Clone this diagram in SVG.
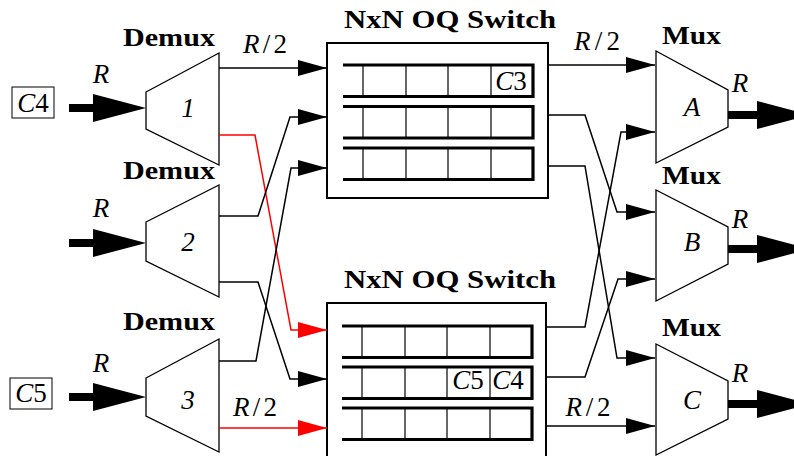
<svg xmlns="http://www.w3.org/2000/svg" xmlns:xlink="http://www.w3.org/1999/xlink" width="794" height="456" viewBox="0 0 794 456">
<style>
  text { font-family: "Liberation Serif", "Times New Roman", serif; fill: #000; }
  .title { font-weight: bold; font-size: 25px; }
  .it { font-style: italic; font-size: 27px; }
  .math { font-size: 27px; }
  .shape { fill: #fff; stroke: #000; stroke-width: 1.3; }
  .box { fill: #fff; stroke: #000; stroke-width: 2; }
  .qline { fill: none; stroke: #000; stroke-width: 3.2; }
  .div { stroke: #000; stroke-width: 1.2; }
  .conn { fill: none; stroke: #000; stroke-width: 1.5; marker-end: url(#ah); }
  .conn.red { stroke: #ff0000; marker-end: url(#ahr); }
  .thick { stroke: #000; stroke-width: 8; }
  .lbl { fill: #fff; stroke: #000; stroke-width: 1; }
</style>
<defs>
  <marker id="ah" markerUnits="userSpaceOnUse" markerWidth="30" markerHeight="18" refX="29" refY="8" orient="auto">
    <path d="M0,0 L29,8 L0,16 z" fill="#000"/>
  </marker>
  <marker id="ahr" markerUnits="userSpaceOnUse" markerWidth="30" markerHeight="18" refX="29" refY="8" orient="auto">
    <path d="M0,0 L29,8 L0,16 z" fill="#ff0000"/>
  </marker>
  <path id="big" d="M-53,-14 L0,0 L-53,14 z" fill="#000"/>
  <g id="queue">
    <path class="qline" d="M0,0 H190 V31.5 H0"/>
    <line class="div" x1="20" y1="0" x2="20" y2="31.5"/>
    <line class="div" x1="63" y1="0" x2="63" y2="31.5"/>
    <line class="div" x1="105" y1="0" x2="105" y2="31.5"/>
    <line class="div" x1="148" y1="0" x2="148" y2="31.5"/>
  </g>
</defs>
<rect width="794" height="456" fill="#fff"/>

<!-- Input cells -->
<g id="cell-c4">
  <rect class="lbl" x="12" y="87" width="42" height="31"/>
  <text class="it" x="33" y="112" text-anchor="middle">C<tspan font-style="normal">4</tspan></text>
</g>
<g id="cell-c5">
  <rect class="lbl" x="10" y="378" width="42" height="31"/>
  <text class="it" x="31" y="402" text-anchor="middle">C<tspan font-style="normal">5</tspan></text>
</g>

<!-- Demuxes -->
<g id="demux1">
  <text class="title" x="123" y="46" textLength="92" lengthAdjust="spacingAndGlyphs">Demux</text>
  <polygon class="shape" points="146,92 219,53 219,165 146,129"/>
  <text class="it" x="188" y="117" text-anchor="middle">1</text>
  <line class="thick" x1="69" y1="108" x2="100" y2="108"/>
  <use xlink:href="#big" href="#big" transform="translate(146,108)"/>
  <text class="it" x="101" y="83" text-anchor="middle">R</text>
</g>
<g id="demux2">
  <text class="title" x="123" y="179" textLength="92" lengthAdjust="spacingAndGlyphs">Demux</text>
  <polygon class="shape" points="146,222 219,185 219,297 146,261"/>
  <text class="it" x="188" y="251" text-anchor="middle">2</text>
  <line class="thick" x1="69" y1="243" x2="100" y2="243"/>
  <use xlink:href="#big" href="#big" transform="translate(146,243)"/>
  <text class="it" x="101" y="217" text-anchor="middle">R</text>
</g>
<g id="demux3">
  <text class="title" x="123" y="330" textLength="92" lengthAdjust="spacingAndGlyphs">Demux</text>
  <polygon class="shape" points="146,378 219,339 219,452 146,416"/>
  <text class="it" x="188" y="409" text-anchor="middle">3</text>
  <line class="thick" x1="69" y1="397" x2="100" y2="397"/>
  <use xlink:href="#big" href="#big" transform="translate(146,397)"/>
  <text class="it" x="101" y="372" text-anchor="middle">R</text>
</g>

<!-- Switches -->
<g id="switch1">
  <text class="title" x="344" y="28" textLength="212" lengthAdjust="spacingAndGlyphs">NxN OQ Switch</text>
  <rect class="box" x="327" y="43" width="221" height="155"/>
  <use xlink:href="#queue" href="#queue" transform="translate(343,65)"/>
  <use xlink:href="#queue" href="#queue" transform="translate(343,106.5)"/>
  <use xlink:href="#queue" href="#queue" transform="translate(343,148)"/>
  <text class="it" x="511" y="90" text-anchor="middle">C<tspan font-style="normal">3</tspan></text>
</g>
<g id="switch2">
  <text class="title" x="344" y="288" textLength="212" lengthAdjust="spacingAndGlyphs">NxN OQ Switch</text>
  <rect class="box" x="327" y="303" width="219" height="200"/>
  <use xlink:href="#queue" href="#queue" transform="translate(342,326)"/>
  <use xlink:href="#queue" href="#queue" transform="translate(342,367)"/>
  <use xlink:href="#queue" href="#queue" transform="translate(342,408)"/>
  <text class="it" x="468" y="389" text-anchor="middle">C<tspan font-style="normal">5</tspan></text>
  <text class="it" x="508" y="389" text-anchor="middle">C<tspan font-style="normal">4</tspan></text>
</g>

<!-- Muxes -->
<g id="muxA">
  <text class="title" x="662" y="44" textLength="59" lengthAdjust="spacingAndGlyphs">Mux</text>
  <polygon class="shape" points="656,51 728,90 728,127 656,163"/>
  <text class="it" x="692" y="116" text-anchor="middle">A</text>
  <line class="thick" x1="728" y1="115" x2="760" y2="115"/>
  <use xlink:href="#big" href="#big" transform="translate(810,115)"/>
  <text class="it" x="740" y="92" text-anchor="middle">R</text>
</g>
<g id="muxB">
  <text class="title" x="662" y="184" textLength="59" lengthAdjust="spacingAndGlyphs">Mux</text>
  <polygon class="shape" points="656,190 728,227 728,264 656,301"/>
  <text class="it" x="692" y="251" text-anchor="middle">B</text>
  <line class="thick" x1="728" y1="249" x2="760" y2="249"/>
  <use xlink:href="#big" href="#big" transform="translate(810,249)"/>
  <text class="it" x="740" y="228" text-anchor="middle">R</text>
</g>
<g id="muxC">
  <text class="title" x="662" y="336" textLength="59" lengthAdjust="spacingAndGlyphs">Mux</text>
  <polygon class="shape" points="656,344 728,381 728,419 656,455"/>
  <text class="it" x="692" y="409" text-anchor="middle">C</text>
  <line class="thick" x1="728" y1="404" x2="760" y2="404"/>
  <use xlink:href="#big" href="#big" transform="translate(810,404)"/>
  <text class="it" x="740" y="382" text-anchor="middle">R</text>
</g>

<!-- Connectors -->
<g id="connectors">
  <path class="conn" d="M219,68 H327"/>
  <path class="conn red" d="M219,135 H255 L291,330 H327"/>
  <path class="conn" d="M219,216 H258 L290,117 H327"/>
  <path class="conn" d="M219,282 H258 L290,379 H327"/>
  <path class="conn" d="M219,361 H256 L291,168 H327"/>
  <path class="conn red" d="M219,428 H327"/>
  <path class="conn" d="M548,65 H655"/>
  <path class="conn" d="M548,115 H585 L617,212 H655"/>
  <path class="conn" d="M548,166 H585 L617,358 H655"/>
  <path class="conn" d="M546,327 H585 L621,132 H655"/>
  <path class="conn" d="M546,377 H585 L618,279 H655"/>
  <path class="conn" d="M546,426 H655"/>
  <text class="math" x="265" y="53" text-anchor="middle" textLength="44"><tspan font-style="italic">R</tspan>/2</text>
  <text class="math" x="255" y="416" text-anchor="middle" textLength="44"><tspan font-style="italic">R</tspan>/2</text>
  <text class="math" x="597" y="50" text-anchor="middle" textLength="46"><tspan font-style="italic">R</tspan>/2</text>
  <text class="math" x="588" y="416" text-anchor="middle" textLength="45"><tspan font-style="italic">R</tspan>/2</text>
</g>
</svg>
